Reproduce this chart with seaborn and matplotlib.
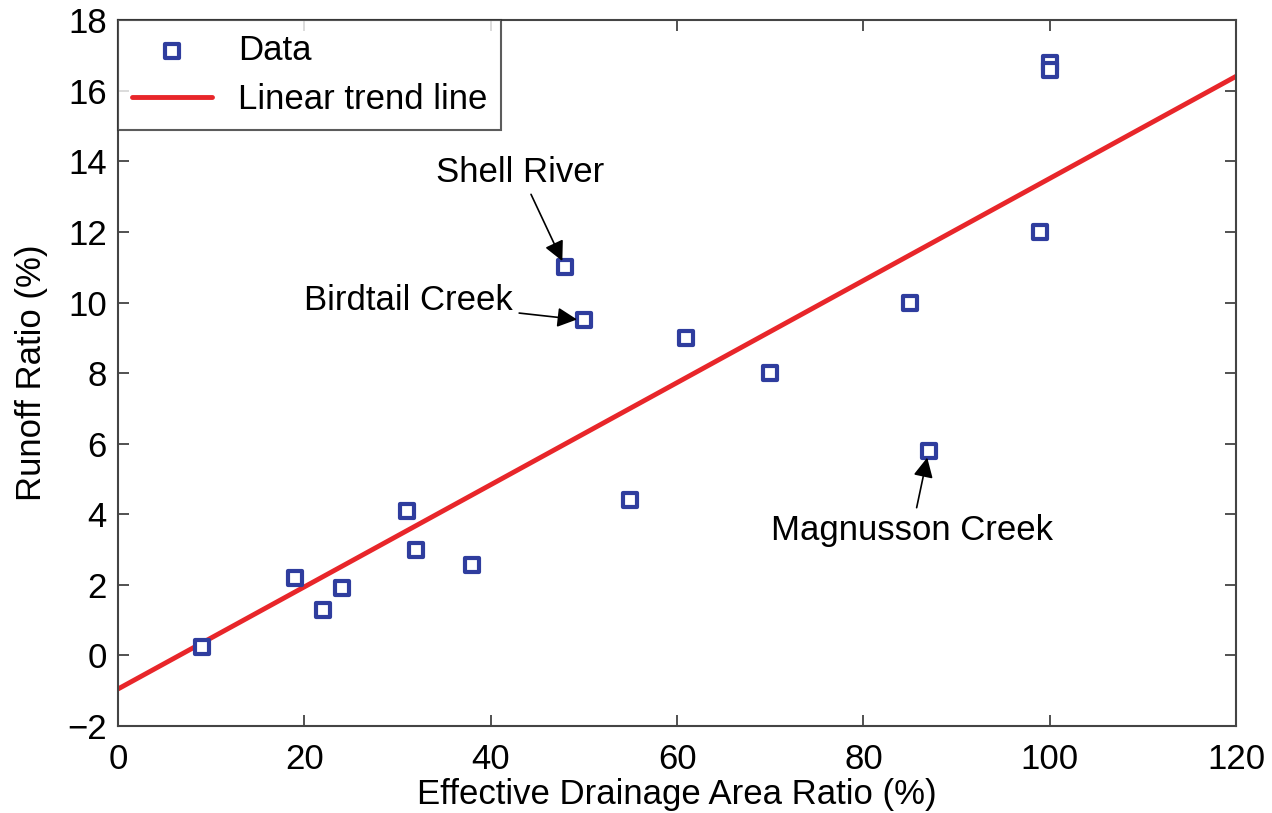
import matplotlib
matplotlib.use("Agg")
import matplotlib.pyplot as plt
import seaborn as sns
import numpy as np
import pandas as pd

# Data
drainage_ratio = [9, 19, 22, 24, 31, 32, 38, 48, 50, 55, 61, 70, 85, 87, 99, 100, 100]
runoff_ratio = [0.25, 2.2, 1.3, 1.9, 4.1, 3.0, 2.55, 11.0, 9.5, 4.4, 9.0, 8.0, 10.0, 5.8, 12.0, 16.8, 16.6]
trend_intercept = -0.95
trend_slope = 0.1447
trend_x = [0, 120]
labels = ["Shell River", "Birdtail Creek", "Magnusson Creek"]
label_points = [(48, 11.0), (50, 9.5), (87, 5.8)]
label_text_pos = [(43.2, 13.7), (31.2, 10.05), (85.2, 3.55)]
x_ticks = [0, 20, 40, 60, 80, 100, 120]
y_ticks = [-2, 0, 2, 4, 6, 8, 10, 12, 14, 16, 18]

sns.set_style("white")
plt.rcParams['font.family'] = ['Liberation Sans', 'DejaVu Sans']
plt.rcParams['text.color'] = 'black'
plt.rcParams['axes.labelcolor'] = 'black'

FS = 25

df = pd.DataFrame({"x": drainage_ratio, "y": runoff_ratio})
trend_df = pd.DataFrame({"x": trend_x,
                         "y": [trend_intercept + trend_slope * v for v in trend_x]})

fig = plt.figure(figsize=(12.72, 8.13), dpi=100)
ax = fig.add_axes([0.0928, 0.107, 0.879, 0.868])

sns.lineplot(data=trend_df, x="x", y="y", ax=ax, color="#e8262a", linewidth=3.5,
             label="Linear trend line", zorder=2)
sns.scatterplot(data=df, x="x", y="y", ax=ax, marker="s", s=110,
                facecolor="white", edgecolor="#2f3d9e", linewidth=3,
                label="Data", zorder=3)

ax.set_xlim(0, 120)
ax.set_ylim(-2, 18)
ax.set_xticks(x_ticks)
ax.set_yticks(y_ticks)
ax.set_yticklabels([str(t).replace("-", "\u2212") for t in y_ticks])
ax.tick_params(direction="in", length=8, width=1.2, labelsize=FS,
               top=True, right=True, bottom=True, left=True, colors="#333333",
               labelcolor="black")
ax.tick_params(axis="x", pad=12)
ax.tick_params(axis="y", pad=8)
for s in ax.spines.values():
    s.set_color("#444444")
    s.set_linewidth(1.5)
ax.set_xlabel("Effective Drainage Area Ratio (%)", fontsize=FS, labelpad=2)
ax.set_ylabel("Runoff Ratio (%)", fontsize=FS, labelpad=14)

handles, lbls = ax.get_legend_handles_labels()
order = [lbls.index("Data"), lbls.index("Linear trend line")]
leg = ax.legend([handles[i] for i in order], [lbls[i] for i in order],
                loc="upper left", fontsize=FS, frameon=True, fancybox=False,
                borderaxespad=0, handlelength=2.3, borderpad=0.4,
                labelspacing=0.45, handletextpad=0.75)
leg.get_frame().set_edgecolor("#333333")
leg.get_frame().set_linewidth(1.5)

for name, pt, tp in zip(labels, label_points, label_text_pos):
    ax.annotate(name, xy=pt, xytext=tp, fontsize=FS, ha="center", va="center",
                color="black",
                arrowprops=dict(arrowstyle="-|>", color="black", lw=1.2,
                                mutation_scale=30, shrinkA=2, shrinkB=5))

fig.savefig("out.png", dpi=100)
